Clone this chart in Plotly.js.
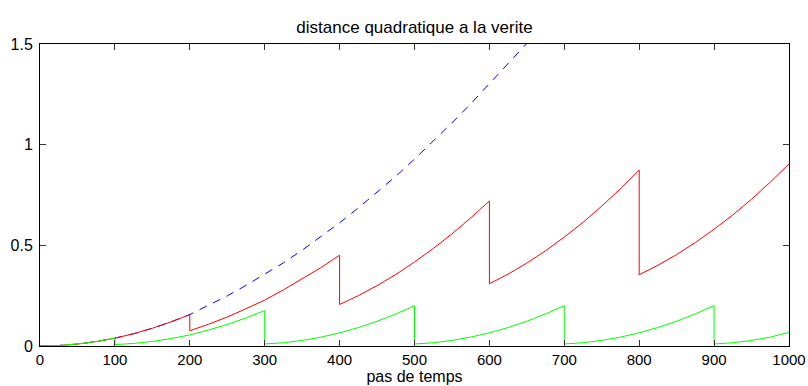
<!DOCTYPE html>
<html>
<head>
<meta charset="utf-8">
<script src="https://cdn.plot.ly/plotly-3.0.1.min.js"></script>
<style>
html,body{margin:0;padding:0;background:#fff;}
#chart{width:808px;height:386px;}
</style>
</head>
<body>
<div id="chart"></div>
<script>
// Blue dashed curve (no reset)
const blueX = [0,25,50,75,100,125,150,175,200,225,250,275,300,325,350,375,400,425,450,475,500,525,550,575,600,625,650,675];
const blueY = [0,0.0024,0.0097,0.022,0.039,0.061,0.088,0.120,0.156,0.201,0.249,0.301,0.355,0.413,0.476,0.542,0.612,0.686,0.763,0.843,0.928,1.016,1.108,1.203,1.302,1.400,1.500,1.603];

// Red curve (reset every 200 steps)
const redX = [0,25,50,75,100,125,150,175,200,
              200,225,250,275,300,325,350,375,400,
              400,425,450,475,500,525,550,575,600,
              600,625,650,675,700,725,750,775,800,
              800,825,850,875,900,925,950,975,1000];
const redY = [0,0.0024,0.0097,0.022,0.039,0.061,0.088,0.120,0.156,
              0.076,0.108,0.144,0.185,0.228,0.279,0.332,0.389,0.451,
              0.206,0.250,0.300,0.355,0.417,0.484,0.557,0.636,0.720,
              0.309,0.357,0.412,0.473,0.541,0.614,0.695,0.781,0.874,
              0.354,0.401,0.454,0.514,0.580,0.651,0.729,0.814,0.904];

// Green curve (reset at 100, then every 200 steps)
const greenX = [0,25,50,75,100,
                100,125,150,175,200,225,250,275,300,
                300,325,350,375,400,425,450,475,500,
                500,525,550,575,600,625,650,675,700,
                700,725,750,775,800,825,850,875,900,
                900,925,950,975,1000];
const greenY = [0,0.0024,0.0097,0.022,0.039,
                0.007,0.0126,0.0226,0.0371,0.055,0.0793,0.1071,0.1393,0.176,
                0.010,0.0163,0.0276,0.0438,0.0651,0.0913,0.1226,0.1588,0.200,
                0.010,0.0163,0.0277,0.0440,0.0654,0.0918,0.1232,0.1596,0.201,
                0.010,0.0163,0.0277,0.0440,0.0654,0.0918,0.1232,0.1596,0.201,
                0.010,0.0163,0.0277,0.0440,0.068];

const xTicks = [0,100,200,300,400,500,600,700,800,900,1000];
const xTickText = ["0","100","200","300","400","500","600","700","800","900","1000"];
const yTicks = [0,0.5,1,1.5];
const yTickText = ["0","0.5","1","1.5"];

const traces = [
  {x: blueX, y: blueY, type: 'scatter', mode: 'lines',
   line: {color: '#0000ff', width: 1, dash: '8px,7px'}, hoverinfo: 'skip'},
  {x: redX, y: redY, type: 'scatter', mode: 'lines',
   line: {color: '#ff0000', width: 1}, hoverinfo: 'skip'},
  {x: greenX, y: greenY, type: 'scatter', mode: 'lines',
   line: {color: '#00ff00', width: 1}, hoverinfo: 'skip'}
];

const fam = '"Liberation Sans", Arial, sans-serif';
const titleFont = {family: fam, size: 17, color: '#000'};
const xTitleFont = {family: fam, size: 16, color: '#000'};
const xTickFont = {family: fam, size: 15, color: '#000'};
const yTickFont = {family: fam, size: 16, color: '#000'};

const layout = {
  width: 808, height: 386,
  margin: {l: 40, r: 19, t: 44, b: 40, pad: 0},
  paper_bgcolor: '#fff', plot_bgcolor: '#fff',
  showlegend: false,
  font: titleFont,
  title: {text: 'distance quadratique a la verite', font: titleFont,
          x: 0.5, xref: 'paper', y: 1 - 27/386, yref: 'container', yanchor: 'middle'},
  xaxis: {range: [0, 1000], tickvals: xTicks, ticktext: xTickText,
          ticks: 'inside', ticklen: 6, tickcolor: '#333', tickwidth: 1,
          showline: true, linecolor: '#000', linewidth: 1, mirror: 'ticks',
          showgrid: false, zeroline: false, tickfont: xTickFont,
          title: {text: 'pas de temps', font: xTitleFont, standoff: 2}},
  yaxis: {range: [0, 1.5], tickvals: yTicks, ticktext: yTickText,
          ticks: 'inside', ticklen: 6, tickcolor: '#333', tickwidth: 1,
          showline: true, linecolor: '#000', linewidth: 1, mirror: 'ticks',
          showgrid: false, zeroline: false, tickfont: yTickFont, ticklabelstandoff: 3}
};

Plotly.newPlot('chart', traces, layout, {staticPlot: true, displayModeBar: false});
</script>
</body>
</html>
